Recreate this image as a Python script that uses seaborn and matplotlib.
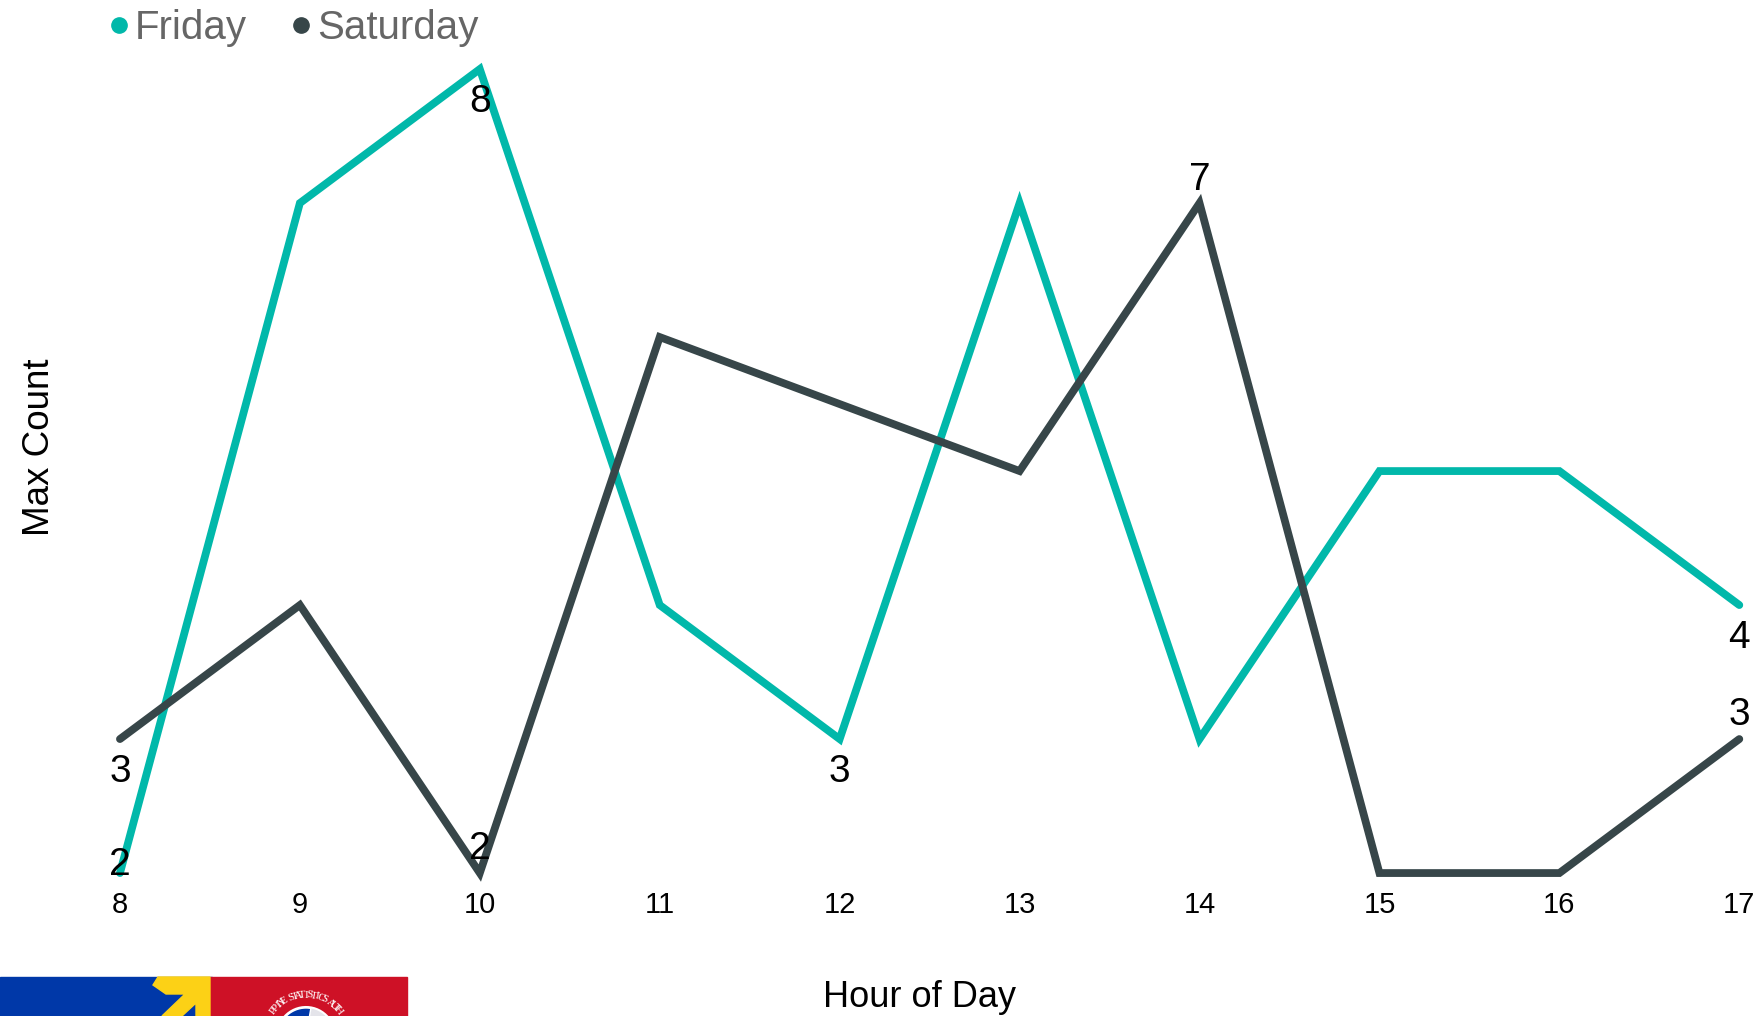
import numpy as np
import pandas as pd
import matplotlib
matplotlib.use("Agg")
import matplotlib.pyplot as plt
from matplotlib.lines import Line2D
from matplotlib.patches import Rectangle, Polygon
import seaborn as sns

# Hourly maximum counts per day
hours = [8, 9, 10, 11, 12, 13, 14, 15, 16, 17]
friday = [2, 7, 8, 4, 3, 7, 3, 5, 5, 4]
saturday = [3, 4, 2, 6, np.nan, 5, 7, 2, 2, 3]
days = ["Friday", "Saturday"]
colors = {"Friday": "#01B8AA", "Saturday": "#374649"}

# Data labels shown on the chart: (day, hour, placement)
labels = [
    ("Friday", 8, "on"), ("Friday", 10, "below"), ("Friday", 12, "below"),
    ("Friday", 17, "below"),
    ("Saturday", 8, "below"), ("Saturday", 10, "above"), ("Saturday", 14, "above"),
    ("Saturday", 17, "above"),
]

df = pd.DataFrame({
    "Hour of Day": hours * 2,
    "Max Count": friday + saturday,
    "Day": ["Friday"] * len(hours) + ["Saturday"] * len(hours),
})

sns.set_theme(style="white")
plt.rcParams["font.family"] = ["Liberation Sans", "DejaVu Sans"]

W, H = 1764, 1016
fig = plt.figure(figsize=(W / 100, H / 100), dpi=100)
ax = fig.add_axes([0.068, 0.1407, 0.918, 0.7913])

sns.lineplot(data=df, x="Hour of Day", y="Max Count", hue="Day", palette=colors,
             hue_order=days, linewidth=5.6, legend=False, ax=ax,
             solid_capstyle="round", solid_joinstyle="miter", clip_on=False)

ax.set_xlim(8, 17)
ax.set_ylim(2, 8)
ax.set_yticks([])
ax.set_xticks(hours)
ax.set_xticklabels([str(h) for h in hours], fontsize=21, color="#000000")
ax.tick_params(axis="x", length=0, pad=13)
for s in ax.spines.values():
    s.set_visible(False)

ax.set_xlabel("Hour of Day", fontsize=26, color="#000000")
ax.xaxis.set_label_coords(0.494, -0.133)
ax.set_ylabel("Max Count", fontsize=26.5, color="#000000")
ax.yaxis.set_label_coords(-0.039, 0.53)

series = {"Friday": dict(zip(hours, friday)), "Saturday": dict(zip(hours, saturday))}
offsets = {"above": (4, "bottom"), "below": (-11, "top"), "on": (-7, "bottom")}
for day, h, where in labels:
    v = series[day][h]
    dy, va = offsets[where]
    ax.annotate(f"{v:g}", xy=(h, v), xytext=(0, dy), textcoords="offset points",
                ha="center", va=va, fontsize=28, color="#000000",
                annotation_clip=False)

# Legend
handles = [Line2D([], [], marker="o", linestyle="none", markersize=11,
                  color=colors[d]) for d in days]
leg = fig.legend(handles, days, loc="upper left", bbox_to_anchor=(0.033, 1.027),
                 ncol=2, frameon=False, fontsize=29, handletextpad=-0.2,
                 columnspacing=0.75, handlelength=1.2)
for t in leg.get_texts():
    t.set_color("#666666")


# Agency banner in the bottom-left corner (pixel coordinates from the top-left)
def fx(x):
    return x / W


def fy(y):
    return 1 - y / H


def poly(pts, **kw):
    fig.patches.append(Polygon([(fx(x), fy(y)) for x, y in pts], closed=True,
                               transform=fig.transFigure, **kw))


def arc_pts(cx, cy, r, a0, a1, n=60, center=False):
    a = np.radians(np.linspace(a0, a1, n))
    pts = [(cx + r * np.cos(t), cy - r * np.sin(t)) for t in a]
    return ([(cx, cy)] + pts) if center else pts


tr = fig.transFigure
fig.patches.append(Rectangle((fx(0), fy(H)), fx(212), 39 / H, transform=tr,
                             color="#0038A8", zorder=0))
fig.patches.append(Rectangle((fx(210), fy(H)), fx(197), 39 / H, transform=tr,
                             color="#CE1126", zorder=0))
poly([(158, 977), (210, 977), (210, 1016), (196, 1016), (196, 1003),
      (182, 1016), (162, 1016), (185, 994), (166, 994), (153, 985)],
     color="#FCD116", zorder=1)

# Seal: globe and text ring
cx, cy = 306, 1036
poly(arc_pts(cx, cy, 29, 0, 360), facecolor="#E4E4EA", edgecolor="white",
     linewidth=1.5, zorder=2)
poly(arc_pts(cx, cy, 28, 80, 175, center=True), facecolor="#0038A8", zorder=3)
poly(arc_pts(cx, cy, 28, 175, 200, center=True), facecolor="#FCD116", zorder=3)
ring = "PHILIPPINE STATISTICS AUTHORITY"
angles = np.linspace(168, 12, len(ring))
for ch, a in zip(ring, angles):
    r = 41
    x = cx + r * np.cos(np.radians(a))
    y = cy - r * np.sin(np.radians(a))
    if y < H - 3:
        fig.text(fx(x), fy(y), ch, fontsize=8, color="white", family="Liberation Serif",
                 rotation=a - 90, ha="center", va="center", zorder=4)

fig.savefig("out.png", dpi=100, facecolor="white")
